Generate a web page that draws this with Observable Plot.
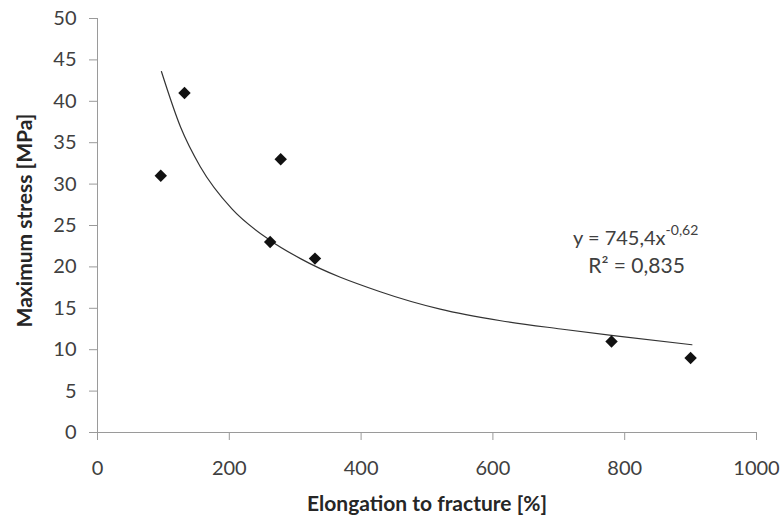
<!DOCTYPE html>
<html>
<head>
<meta charset="utf-8">
<script src="https://cdn.jsdelivr.net/npm/d3@7"></script>
<script src="https://cdn.jsdelivr.net/npm/@observablehq/plot@0.6"></script>
<style>
  html, body { margin: 0; padding: 0; background: #fff; }
</style>
</head>
<body>
<div id="chart"></div>
<script>
// Measured points
const elongation = [96, 132, 262, 278, 330, 780, 900];
const stress = [31, 41, 23, 33, 21, 11, 9];

// Power trendline
const trendX = [97, 126, 156, 204, 262, 308, 429, 520, 612, 703, 783, 902];
const trendY = [43.6, 36.9, 32.1, 27.0, 23.2, 21.0, 17.0, 14.9, 13.5, 12.5, 11.7, 10.6];

// Axis ticks
const xTicks = [0, 200, 400, 600, 800, 1000];
const yTicks = [0, 5, 10, 15, 20, 25, 30, 35, 40, 45, 50];

// Texts
const xTitle = "Elongation to fracture [%]";
const yTitle = "Maximum stress [MPa]";
const eqMain = "y = 745,4x";
const eqExp = "-0,62";
const eqR2 = "R² = 0,835";

const points = elongation.map((x, i) => ({x, y: stress[i]}));
const trend = trendX.map((x, i) => ({x, y: trendY[i]}));

const axisGray = "#9a9a9a";
const textGray = "#404040";

const chart = Plot.plot({
  width: 783,
  height: 524,
  marginLeft: 97,
  marginRight: 27,
  marginTop: 18,
  marginBottom: 92,
  style: {fontFamily: "Lato, 'Open Sans', sans-serif", fontSize: "20px", background: "#fff", color: textGray},
  x: {domain: [0, 1000]},
  y: {domain: [0, 50]},
  marks: [
    Plot.axisX({ticks: xTicks, tickSize: 8, tickPadding: 20, stroke: axisGray, fill: textGray, tickFormat: d => String(d), label: null}),
    Plot.axisY({ticks: yTicks, tickSize: 8, tickPadding: 13, stroke: axisGray, fill: textGray, tickFormat: d => String(d), label: null}),
    Plot.ruleY([0], {stroke: axisGray}),
    Plot.ruleX([0], {stroke: axisGray}),
    Plot.line(trend, {x: "x", y: "y", curve: "monotone-x", stroke: "#333", strokeWidth: 1.2}),
    Plot.dot(points, {x: "x", y: "y", symbol: "diamond2", r: 5.6, fill: "#111", stroke: "none"}),
    Plot.text([eqMain], {x: 862, y: 23.45, text: d => d, textAnchor: "end", fill: textGray, fontSize: 20}),
    Plot.text([eqExp], {x: 862, y: 23.45, text: d => d, textAnchor: "start", dy: -8, fill: textGray, fontSize: 14}),
    Plot.text([eqR2], {x: 818, y: 20.07, text: d => d, textAnchor: "middle", fill: textGray, fontSize: 21}),
    Plot.text([yTitle], {frameAnchor: "left", rotate: -90, dx: -72, dy: -5, textAnchor: "middle", text: d => d, fontWeight: "bold", fill: "#262626", fontSize: 21}),
    Plot.text([xTitle], {frameAnchor: "bottom", dy: 78, textAnchor: "middle", text: d => d, fontWeight: "bold", fill: "#262626", fontSize: 21})
  ]
});
document.getElementById("chart").appendChild(chart);
</script>
</body>
</html>
